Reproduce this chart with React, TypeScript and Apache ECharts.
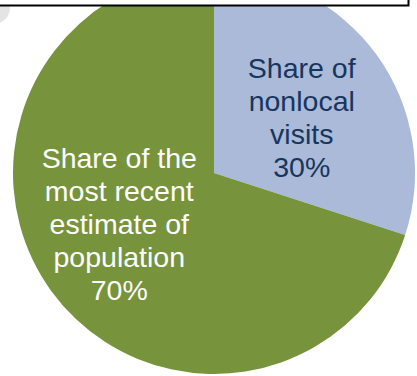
import React, { useEffect, useRef } from "react";
import * as echarts from "echarts";

const categories = [
  "Share of\nnonlocal\nvisits",
  "Share of the\nmost recent\nestimate of\npopulation",
];
const shares = [30, 70];
const colors = ["#AABAD8", "#77933C"];
const labelColors = ["#17365D", "#FFFFFF"];
const labelShift = [
  [4, 5],
  [-11, -10],
];

export default function App() {
  const ref = useRef<HTMLDivElement>(null);
  useEffect(() => {
    if (!ref.current) return;
    const chart = echarts.init(ref.current, null, { renderer: "svg" });
    chart.setOption({
      animation: false,
      backgroundColor: "#FFFFFF",
      series: [
        {
          type: "pie",
          center: [214, 173],
          radius: [0, 201],
          startAngle: 90,
          clockwise: true,
          silent: true,
          z: 2,
          label: {
            show: true,
            position: "inside",
            formatter: (p: any) => `${p.name}\n${p.value}%`,
            fontFamily: "Liberation Sans, Arial, sans-serif",
            fontSize: 28.5,
            lineHeight: 33,
            align: "center",
          },
          labelLine: { show: false },
          labelLayout: (p: any) => ({
            dx: labelShift[p.dataIndex][0],
            dy: labelShift[p.dataIndex][1],
          }),
          data: categories.map((c, i) => ({
            name: c,
            value: shares[i],
            itemStyle: { color: colors[i], borderWidth: 0 },
            label: { color: labelColors[i] },
          })),
        },
      ],
      graphic: [
        {
          type: "circle",
          shape: { cx: -6, cy: 8, r: 16 },
          style: { fill: "#E4E4E4" },
          z: 5,
        },
        {
          type: "rect",
          shape: { x: -5, y: -10, width: 413.5, height: 15.5 },
          style: { fill: "#FFFFFF", stroke: "#000000", lineWidth: 2 },
          z: 10,
        },
      ],
    });
    return () => chart.dispose();
  }, []);
  return (
    <div
      ref={ref}
      style={{ position: "fixed", left: 0, top: 0, width: 417, height: 376 }}
    />
  );
}
